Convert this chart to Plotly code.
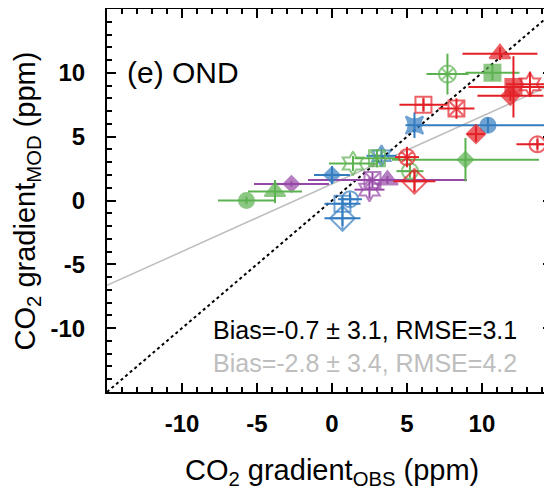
import plotly.graph_objects as go

# ---------------- data ----------------
red_x = [11.2, 12.1, 11.9, 13.2, 6.1, 8.3, 9.6, 13.7, 5.0, 5.5]
red_y = [11.5, 8.9, 8.2, 9.1, 7.5, 7.2, 5.2, 4.4, 3.4, 1.5]
red_xerr = [2.5, 3.0, 2.2, 1.6, 1.6, 1.2, 0.6, 1.4, 0.8, 1.4]
red_yerr = [0.5, 2.4, 0.4, 1.0, 0.5, 0.8, 0.6, 0.4, 0.8, 0.8]

green_x = [-5.7, -3.8, 1.4, 3.0, 5.2, 8.9, 7.7, 10.7]
green_y = [0.0, 0.7, 2.9, 3.3, 2.3, 3.2, 9.9, 10.0]
green_xerr = [1.9, 1.8, 1.6, 1.5, 0.9, 4.9, 1.4, 1.8]
green_yerr = [0.3, 0.9, 0.6, 0.7, 0.5, 1.7, 1.6, 0.6]

blue_x = [0.0, 5.5, 10.4, 1.2, 0.7, 0.7, 3.3]
blue_y = [2.0, 5.9, 5.9, 0.1, -0.25, -1.4, 3.5]
blue_xerr = [1.2, 0.6, 4.5, 0.8, 1.2, 1.2, 1.0]
blue_yerr = [0.7, 1.0, 0.6, 0.5, 0.5, 0.6, 0.6]

purple_x = [-2.7, 3.7, 2.7, 2.5]
purple_y = [1.3, 1.6, 1.6, 0.85]
purple_xerr = [2.5, 5.3, 1.0, 1.0]
purple_yerr = [0.2, 0.3, 0.6, 0.7]

reg_intercept = 1.3
reg_slope = 0.53

x_range = [-15, 14.67]
y_range = [-15, 15]
tick_vals = [-10, -5, 0, 5, 10]
tick_text = ["-10", "-5", "0", "5", "10"]

panel_label = "(e) OND"
stats_model = "Bias=-0.7 ± 3.1, RMSE=3.1"
stats_other = "Bias=-2.8 ± 3.4, RMSE=4.2"
x_title = "CO<sub>2</sub> gradient<sub>OBS</sub> (ppm)"
y_title = "CO<sub>2</sub> gradient<sub>MOD</sub> (ppm)"

# ---------------- styles ----------------
RED = "rgb(226,32,38)"
GREEN = "rgb(92,178,80)"
BLUE = "rgb(52,124,192)"
PURPLE = "rgb(150,72,166)"
GREY = "rgb(190,190,190)"

red_sym = ["triangle-up", "square", "diamond", "hexagram-open", "square-cross-open",
           "square-x-open", "diamond", "circle-cross-open", "circle-x-open", "diamond-cross-open"]
red_size = [18, 16, 14, 18, 16, 16, 14, 16, 16, 19]
green_sym = ["circle", "triangle-up", "hexagram-open", "square-x-open", "circle-cross-open",
             "diamond", "circle-x-open", "square"]
green_size = [15, 18, 18, 16, 16, 12, 17, 16]
blue_sym = ["diamond", "star-square", "circle", "circle-cross-open", "square-cross-open",
            "diamond-cross-open", "hexagram-open"]
blue_size = [12, 16, 15, 16, 16, 19, 16]
purple_sym = ["diamond", "triangle-up", "square-x-open", "hexagram-open"]
purple_size = [12, 18, 16, 18]

FONT = "Arial, Liberation Sans, sans-serif"

fig = go.Figure()

# 1:1 line and regression line
fig.add_trace(go.Scatter(x=x_range, y=x_range, mode="lines",
                         line=dict(color="black", width=2, dash="dot"),
                         showlegend=False, hoverinfo="skip"))
fig.add_trace(go.Scatter(x=x_range, y=[reg_intercept + reg_slope * v for v in x_range],
                         mode="lines", line=dict(color=GREY, width=1.5),
                         showlegend=False, hoverinfo="skip"))

groups = [
    (purple_x, purple_y, purple_xerr, purple_yerr, PURPLE, purple_sym, purple_size),
    (blue_x, blue_y, blue_xerr, blue_yerr, BLUE, blue_sym, blue_size),
    (green_x, green_y, green_xerr, green_yerr, GREEN, green_sym, green_size),
    (red_x, red_y, red_xerr, red_yerr, RED, red_sym, red_size),
]
for gx, gy, gxe, gye, col, sym, sz in groups:
    fig.add_trace(go.Scatter(
        x=gx, y=gy, mode="markers",
        marker=dict(symbol=sym, size=sz, color=col, line=dict(color=col, width=2)),
        error_x=dict(type="data", array=gxe, color=col, thickness=2, width=0),
        error_y=dict(type="data", array=gye, color=col, thickness=2, width=0),
        showlegend=False, cliponaxis=True))

axis_common = dict(
    showline=True, linecolor="black", linewidth=2, mirror="ticks",
    ticks="inside", ticklen=9, tickwidth=2, tickcolor="black",
    showgrid=False, zeroline=False, automargin=False,
    tickvals=tick_vals, ticktext=tick_text,
    tickfont=dict(family=FONT, size=24, color="black", weight="bold"),
    minor=dict(dtick=1, ticks="inside", ticklen=5, tickwidth=1.5, tickcolor="black", showgrid=False),
)

# page body adds an 8px offset; margins compensate so the plot lands where the reference has it
fig.update_layout(
    width=552, height=489,
    margin=dict(l=99, r=8, t=1, b=105, autoexpand=False),
    paper_bgcolor="white", plot_bgcolor="white",
    xaxis=dict(range=x_range, ticklabelstandoff=9, **axis_common),
    yaxis=dict(range=y_range, ticklabelstandoff=15, **axis_common),
    annotations=[
        dict(text=x_title, xref="paper", yref="paper", x=0.505, y=-0.21,
             xanchor="center", yanchor="middle", showarrow=False,
             font=dict(family=FONT, size=29, color="black")),
        dict(text=y_title, xref="paper", yref="paper", x=-0.18, y=0.5, textangle=-90,
             xanchor="center", yanchor="middle", showarrow=False,
             font=dict(family=FONT, size=29, color="black")),
        dict(text=panel_label, xref="paper", yref="paper", x=0.04, y=0.833,
             xanchor="left", yanchor="middle", showarrow=False,
             font=dict(family=FONT, size=30, color="black")),
        dict(text=stats_model, xref="paper", yref="paper", x=0.58, y=0.161,
             xanchor="center", yanchor="middle", showarrow=False,
             font=dict(family=FONT, size=25, color="black")),
        dict(text=stats_other, xref="paper", yref="paper", x=0.58, y=0.076,
             xanchor="center", yanchor="middle", showarrow=False,
             font=dict(family=FONT, size=25, color=GREY)),
    ],
)

fig.write_html("out.html")
